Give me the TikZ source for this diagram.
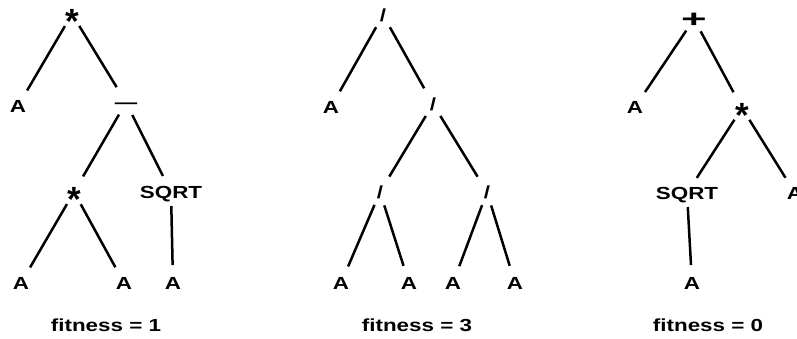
\documentclass[tikz,border=0pt]{standalone}
\usepackage{fontspec}
\setmainfont{Liberation Sans}
\usepackage{graphicx}
\newcommand{\wide}[1]{\scalebox{1.28}[1]{#1}}

\begin{document}
\begin{tikzpicture}[x=1pt,y=-1pt,
treenode/.style = {inner sep=0pt, text height=12.5pt, text depth=0pt,
        font=\fontsize{17.5}{20}\selectfont\bfseries},
branch/.style = {line width=2.5pt, black,
        shorten <=14pt, shorten >=18pt},
]
        \useasboundingbox (0,0) rectangle (797,338);

        % fitness = 1
        \node[treenode] (T1_Root) at (72,14) {\raisebox{-13.5pt}{\scalebox{2}{*}}};
        \node[treenode] (T1_A) at (18,106) {\wide{A}};
        \node[treenode] (T1_Minus) at (126,102.5) {\wide{—}};
        \node[treenode] (T1_Mul) at (74,192) {\raisebox{-13.5pt}{\scalebox{2}{*}}};
        \node[treenode] (T1_Sqrt) at (171,192) {\wide{SQRT}};
        \node[treenode] (T1_LeafA) at (21,283) {\wide{A}};
        \node[treenode] (T1_LeafB) at (124,283) {\wide{A}};
        \node[treenode] (T1_LeafC) at (173,283) {\wide{A}};
        \node[treenode] (T1_Fit) at (106,325) {\wide{fitness = 1}};
        \draw[branch] (T1_Root.center) -- (T1_A.center);
        \draw[branch] (T1_Root.center) -- (T1_Minus.center);
        \draw[branch] (T1_Minus.center) -- (T1_Mul.center);
        \draw[branch] (T1_Minus.center) -- (T1_Sqrt.center);
        \draw[branch] (T1_Mul.center) -- (T1_LeafA.center);
        \draw[branch] (T1_Mul.center) -- (T1_LeafB.center);
        \draw[branch] (T1_Sqrt.center) -- (T1_LeafC.center);

        % fitness = 3
        \node[treenode] (T2_Root) at (383,15) {\wide{/}};
        \node[treenode] (T2_A) at (331,107) {\wide{A}};
        \node[treenode] (T2_Div) at (433,104) {\wide{/}};
        \node[treenode] (T2_DivL) at (380,192) {\wide{/}};
        \node[treenode] (T2_DivR) at (487,192) {\wide{/}};
        \node[treenode] (T2_LeafA) at (341,283) {\wide{A}};
        \node[treenode] (T2_LeafB) at (409,283) {\wide{A}};
        \node[treenode] (T2_LeafC) at (453,283) {\wide{A}};
        \node[treenode] (T2_LeafD) at (515,283) {\wide{A}};
        \node[treenode] (T2_Fit) at (417,325) {\wide{fitness = 3}};
        \draw[branch] (T2_Root.center) -- (T2_A.center);
        \draw[branch] (T2_Root.center) -- (T2_Div.center);
        \draw[branch] (T2_Div.center) -- (T2_DivL.center);
        \draw[branch] (T2_Div.center) -- (T2_DivR.center);
        \draw[branch] (T2_DivL.center) -- (T2_LeafA.center);
        \draw[branch] (T2_DivL.center) -- (T2_LeafB.center);
        \draw[branch] (T2_DivR.center) -- (T2_LeafC.center);
        \draw[branch] (T2_DivR.center) -- (T2_LeafD.center);

        % fitness = 0
        \node[treenode] (T3_Root) at (694,19) {\raisebox{-2.3pt}{\scalebox{2.5}[1.4]{+}}};
        \node[treenode] (T3_A) at (635,107) {\wide{A}};
        \node[treenode] (T3_Mul) at (742,108) {\raisebox{-13.5pt}{\scalebox{2}{*}}};
        \node[treenode] (T3_Sqrt) at (687,193) {\wide{SQRT}};
        \node[treenode] (T3_B) at (795,193) {\wide{A}};
        \node[treenode] (T3_Leaf) at (692,283) {\wide{A}};
        \node[treenode] (T3_Fit) at (708,325) {\wide{fitness = 0}};
        \draw[branch] (T3_Root.center) -- (T3_A.center);
        \draw[branch] (T3_Root.center) -- (T3_Mul.center);
        \draw[branch] (T3_Mul.center) -- (T3_Sqrt.center);
        \draw[branch] (T3_Mul.center) -- (T3_B.center);
        \draw[branch] (T3_Sqrt.center) -- (T3_Leaf.center);

\end{tikzpicture}
\end{document}
